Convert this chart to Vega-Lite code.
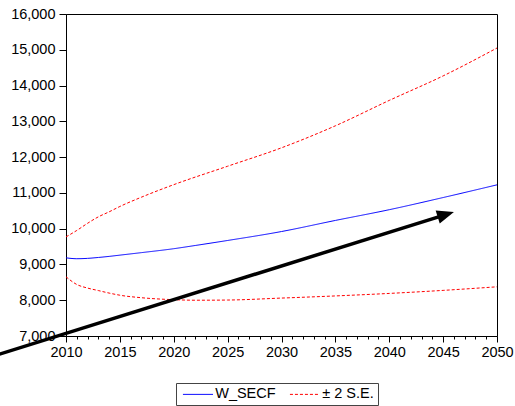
{
  "$schema": "https://vega.github.io/schema/vega-lite/v6.json",
  "width": 431,
  "height": 322,
  "autosize": {"type": "none"},
  "padding": {"left": 66, "top": 14, "right": 18, "bottom": 70},
  "background": "white",
  "config": {
    "font": "Liberation Sans",
    "view": {"stroke": "#000", "strokeWidth": 1},
    "axis": {
      "domainColor": "#000",
      "domainWidth": 1,
      "tickColor": "#000",
      "tickWidth": 1,
      "labelColor": "#000",
      "labelFont": "Liberation Sans",
      "labelFontSize": 14.5,
      "labelOverlap": false,
      "labelFlush": false,
      "labelBound": false,
      "grid": false,
      "title": null
    }
  },
  "datasets": {
    "forecast": [
      {"year": 2010, "value": 9185, "series": "W_SECF", "band": "mid"},
      {"year": 2011, "value": 9160, "series": "W_SECF", "band": "mid"},
      {"year": 2012, "value": 9170, "series": "W_SECF", "band": "mid"},
      {"year": 2013, "value": 9195, "series": "W_SECF", "band": "mid"},
      {"year": 2014, "value": 9225, "series": "W_SECF", "band": "mid"},
      {"year": 2015, "value": 9260, "series": "W_SECF", "band": "mid"},
      {"year": 2017, "value": 9330, "series": "W_SECF", "band": "mid"},
      {"year": 2020, "value": 9440, "series": "W_SECF", "band": "mid"},
      {"year": 2022, "value": 9530, "series": "W_SECF", "band": "mid"},
      {"year": 2025, "value": 9670, "series": "W_SECF", "band": "mid"},
      {"year": 2030, "value": 9920, "series": "W_SECF", "band": "mid"},
      {"year": 2035, "value": 10230, "series": "W_SECF", "band": "mid"},
      {"year": 2040, "value": 10530, "series": "W_SECF", "band": "mid"},
      {"year": 2045, "value": 10870, "series": "W_SECF", "band": "mid"},
      {"year": 2050, "value": 11225, "series": "W_SECF", "band": "mid"},

      {"year": 2010, "value": 9770, "series": "± 2 S.E.", "band": "upper"},
      {"year": 2011, "value": 9950, "series": "± 2 S.E.", "band": "upper"},
      {"year": 2012, "value": 10150, "series": "± 2 S.E.", "band": "upper"},
      {"year": 2013, "value": 10330, "series": "± 2 S.E.", "band": "upper"},
      {"year": 2014, "value": 10470, "series": "± 2 S.E.", "band": "upper"},
      {"year": 2015, "value": 10620, "series": "± 2 S.E.", "band": "upper"},
      {"year": 2017, "value": 10880, "series": "± 2 S.E.", "band": "upper"},
      {"year": 2020, "value": 11230, "series": "± 2 S.E.", "band": "upper"},
      {"year": 2025, "value": 11745, "series": "± 2 S.E.", "band": "upper"},
      {"year": 2030, "value": 12260, "series": "± 2 S.E.", "band": "upper"},
      {"year": 2035, "value": 12875, "series": "± 2 S.E.", "band": "upper"},
      {"year": 2040, "value": 13585, "series": "± 2 S.E.", "band": "upper"},
      {"year": 2045, "value": 14270, "series": "± 2 S.E.", "band": "upper"},
      {"year": 2050, "value": 15050, "series": "± 2 S.E.", "band": "upper"},

      {"year": 2010, "value": 8655, "series": "± 2 S.E.", "band": "lower"},
      {"year": 2011, "value": 8440, "series": "± 2 S.E.", "band": "lower"},
      {"year": 2012, "value": 8340, "series": "± 2 S.E.", "band": "lower"},
      {"year": 2013, "value": 8270, "series": "± 2 S.E.", "band": "lower"},
      {"year": 2014, "value": 8200, "series": "± 2 S.E.", "band": "lower"},
      {"year": 2015, "value": 8140, "series": "± 2 S.E.", "band": "lower"},
      {"year": 2017, "value": 8070, "series": "± 2 S.E.", "band": "lower"},
      {"year": 2020, "value": 8015, "series": "± 2 S.E.", "band": "lower"},
      {"year": 2022, "value": 8000, "series": "± 2 S.E.", "band": "lower"},
      {"year": 2025, "value": 8005, "series": "± 2 S.E.", "band": "lower"},
      {"year": 2030, "value": 8060, "series": "± 2 S.E.", "band": "lower"},
      {"year": 2035, "value": 8120, "series": "± 2 S.E.", "band": "lower"},
      {"year": 2040, "value": 8190, "series": "± 2 S.E.", "band": "lower"},
      {"year": 2045, "value": 8275, "series": "± 2 S.E.", "band": "lower"},
      {"year": 2050, "value": 8375, "series": "± 2 S.E.", "band": "lower"}
    ],
    "trend_arrow": [
      {"year": 2003.6, "value": 6471, "end": "tail"},
      {"year": 2045.25, "value": 10394, "end": "head"}
    ]
  },
  "layer": [
    {
      "data": {"name": "forecast"},
      "mark": {"type": "line", "interpolate": "monotone", "strokeWidth": 1},
      "encoding": {
        "x": {
          "field": "year",
          "type": "quantitative",
          "scale": {"domain": [2010, 2050], "nice": false, "zero": false},
          "axis": {
            "values": [2010, 2011, 2012, 2013, 2014, 2015, 2016, 2017, 2018, 2019, 2020, 2021, 2022, 2023, 2024, 2025, 2026, 2027, 2028, 2029, 2030, 2031, 2032, 2033, 2034, 2035, 2036, 2037, 2038, 2039, 2040, 2041, 2042, 2043, 2044, 2045, 2046, 2047, 2048, 2049, 2050],
            "tickCount": 100,
            "format": "d",
            "labelExpr": "datum.value % 5 === 0 ? datum.label : ''",
            "labelOverlap": false,
            "tickSize": {"condition": {"test": "datum.value % 5 === 0", "value": 6}, "value": 3},
            "labelPadding": 3
          }
        },
        "y": {
          "field": "value",
          "type": "quantitative",
          "scale": {"domain": [7000, 16000], "nice": false, "zero": false},
          "axis": {
            "values": [7000, 8000, 9000, 10000, 11000, 12000, 13000, 14000, 15000, 16000],
            "tickCount": 100,
            "format": ",d",
            "labelOverlap": false,
            "tickSize": 7,
            "labelPadding": 4
          }
        },
        "color": {
          "field": "series",
          "type": "nominal",
          "scale": {"domain": ["W_SECF", "± 2 S.E."], "range": ["#0000ff", "#ff0000"]},
          "legend": {
            "orient": "none",
            "legendX": 110,
            "legendY": 369,
            "direction": "horizontal",
            "title": null,
            "symbolType": "M-2.5,0L2.5,0",
            "symbolSize": 144,
            "symbolOffset": 10.7,
            "symbolStrokeWidth": 1,
            "labelFont": "Liberation Sans",
            "labelFontSize": 14.5,
            "labelColor": "#000",
            "labelOffset": 10,
            "columnPadding": 11,
            "padding": 4,
            "strokeColor": "#444",
            "fillColor": "white"
          }
        },
        "strokeDash": {
          "field": "series",
          "type": "nominal",
          "scale": {"domain": ["W_SECF", "± 2 S.E."], "range": [[1, 0], [3, 2]]},
          "legend": {"title": null}
        },
        "detail": {"field": "band", "type": "nominal"}
      }
    },
    {
      "data": {"name": "trend_arrow"},
      "mark": {"type": "line", "color": "#000", "strokeWidth": 3.5, "clip": false},
      "encoding": {
        "x": {"field": "year", "type": "quantitative"},
        "y": {"field": "value", "type": "quantitative"}
      }
    },
    {
      "data": {"name": "trend_arrow"},
      "transform": [{"filter": "datum.end === 'head'"}],
      "mark": {
        "type": "point",
        "shape": "M-1,-0.8L1,0L-1,0.8Z",
        "filled": true,
        "color": "#000",
        "opacity": 1,
        "size": 289,
        "angle": -17.4,
        "clip": false
      },
      "encoding": {
        "x": {"field": "year", "type": "quantitative"},
        "y": {"field": "value", "type": "quantitative"}
      }
    }
  ]
}
